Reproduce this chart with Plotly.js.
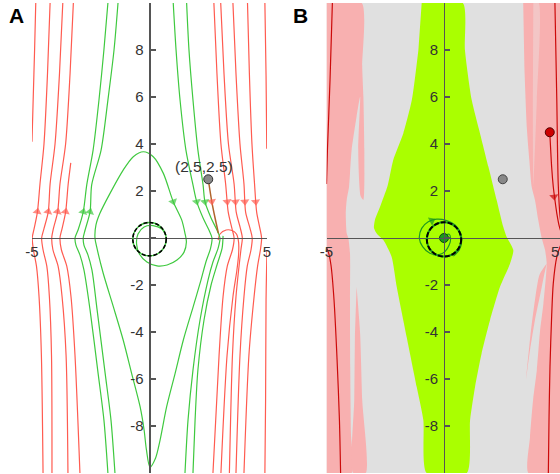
<!DOCTYPE html>
<html><head><meta charset="utf-8">
<script src="https://cdn.plot.ly/plotly-3.0.1.min.js"></script>
<style>html,body{margin:0;padding:0;background:#fff;overflow:hidden}#chart{width:560px;height:474px}</style>
</head><body><div id="chart"></div>
<script>
// ================= DATA (data units) =================
// Panel A : red trajectories (left flow up, right flow down), sampled on common y levels
const redLevelsY  = [10, 7, 4, 2.3, 1.1, 0.4, 0, -0.5, -1.2, -2.5, -5, -10];
const redLeft1X   = [-4.23, -4.34, -4.49, -4.66, -4.77, -4.91, -4.99, -4.94, -4.81, -4.70, -4.60, -4.53];
const redLeft2X   = [-3.69, -3.83, -4.02, -4.23, -4.31, -4.49, -4.59, -4.53, -4.37, -4.26, -4.17, -4.15];
const redLeft3X   = [-3.24, -3.38, -3.57, -3.81, -3.91, -4.09, -4.16, -4.11, -3.89, -3.72, -3.55, -3.47];
const redLeft4X   = [-3.35, -3.46, -3.57, -3.72, -3.81, -3.75, -3.52, -3.34, -3.17, -2.96];
const redLeft4Y   = [3.2, 2.3, 1.1, 0.4, 0, -0.5, -1.2, -2.5, -5, -10];
const redRight1X  = [2.74, 2.87, 3.04, 3.24, 3.35, 3.51, 3.60, 3.53, 3.31, 3.13, 2.96, 2.70];
const redRight2X  = [3.03, 3.17, 3.36, 3.60, 3.69, 3.87, 3.95, 3.89, 3.81, 3.68, 3.53, 3.40];
const redRight3X  = [3.55, 3.68, 3.85, 4.02, 4.09, 4.28, 4.37, 4.32, 4.16, 4.02, 3.85, 3.68];
const redRight4X  = [4.17, 4.25, 4.36, 4.47, 4.56, 4.70, 4.77, 4.72, 4.60, 4.45, 4.23, 4.02];
const redEdgeLeftX  = [-4.84, -4.89, -4.95, -5.0];
const redEdgeLeftY  = [10, 8, 5.9, 4.1];
const redEdgeRightX = [4.91, 4.96, 4.99];
const redEdgeRightY = [10, 6.9, 3.8];
const redEdgeRight2X = [5.0, 4.96, 4.94, 4.91];
const redEdgeRight2Y = [-0.51, -2.64, -6.89, -10];
const redArcX = [2.92, 3.0, 3.26, 3.51, 3.70, 3.79, 3.79, 3.72, 3.55, 3.30, 3.04];
const redArcY = [-0.09, 0.17, 0.34, 0.32, 0.17, -0.17, -0.72, -1.36, -2.5, -5, -10];
const brownX = [2.5, 2.65, 2.79, 2.93];
const brownY = [2.5, 1.55, 0.85, 0.21];

// Panel A : green trajectories
const greenLevelsY = [10, 8, 5.87, 3.74, 2.26, 1.11, 0.34, 0, -0.3, -0.72, -1.36, -3.06, -5.74, -7.74, -10];
const greenLeft1X  = [-1.77, -1.94, -2.15, -2.40, -2.67, -2.82, -3.04, -3.17, -3.13, -2.96, -2.79, -2.53, -2.19, -1.94, -1.77];
const greenLeft2X  = [-1.34, -1.51, -1.77, -2.06, -2.46, -2.53, -2.74, -2.82, -2.79, -2.62, -2.45, -2.23, -1.89, -1.64, -1.47];
const greenRight2X = [1.58, 1.68, 1.85, 2.06, 2.28, 2.36, 2.62, 2.87, 3.0, 2.92, 2.70, 2.49, 2.15, 1.85, 1.64, 1.51];
const greenRight2Y = [10, 8, 5.87, 3.74, 2.26, 1.545, 0.85, 0.34, 0, -0.43, -1.02, -1.79, -3.49, -5.62, -7.74, -10];
const greenRight3X = [3.13, 3.09, 2.87, 2.62, 2.32, 2.06, 1.94, 1.85];
const greenRight3Y = [0.09, -0.43, -1.15, -2.0, -3.49, -5.62, -7.74, -10];
const greenSpiralX = [1.01, 1.13, 1.30, 1.55, 1.85, 2.01, 2.28, 2.53, 2.66, 2.60, 2.40, 2.19, 1.86, 1.44, 1.09, 0.73, 0.45, 0.26, 0.02,
  -0.13, -0.23, -0.40, -0.76, -1.12, -1.54, -1.97, -2.25, -2.32, -2.28, -2.11, -1.68, -1.12, -0.69, -0.26, 0.16, 0.59, 1.01,
  1.37, 1.51, 1.57, 1.47, 1.17, 0.75, 0.32, -0.11, -0.43, -0.55, -0.49, -0.23, 0.15, 0.53, 0.70];
const greenSpiralY = [10, 8, 5.87, 3.74, 2.26, 1.545, 0.85, 0.34, 0, -0.43, -1.02, -1.79, -2.92, -4.34, -5.76, -7.18, -8.60, -9.36, -9.75,
  -9.02, -8.17, -7.18, -5.76, -4.34, -2.92, -1.50, -0.37, 0, 0.55, 1.05, 1.90, 2.89, 3.46, 3.67, 3.46, 2.75, 1.545,
  0.77, 0.20, -0.17, -0.60, -0.94, -1.15, -1.19, -1.02, -0.68, -0.26, 0.17, 0.47, 0.53, 0.38, 0.09];

// arrows: pairs [previous point, tip]
const redArrowX   = [-4.84, -4.77, -4.40, -4.31, -4.00, -3.91, -3.65, -3.57, 2.56, 2.65, 3.22, 3.31, 3.58, 3.66, 4.01, 4.06, 4.44, 4.52];
const redArrowY   = [0.75, 1.12, 0.75, 1.12, 0.75, 1.12, 0.75, 1.12, 2.1, 1.55, 2.2, 1.545, 2.2, 1.545, 2.2, 1.545, 2.2, 1.545];
const greenArrowX = [-2.93, -2.82, -2.64, -2.53, 0.80, 1.01, 1.88, 2.01, 2.25, 2.36];
const greenArrowY = [0.72, 1.11, 0.72, 1.11, 2.15, 1.545, 2.15, 1.545, 2.15, 1.545];

// limit cycle (centre, radius)
const cycleCenter = [0, -0.05];
const cycleRadius = 0.71;
const startPoint = [2.5, 2.5];
const startLabel = '(2.5,2.5)';
const startLabelPos = [2.32, 3.06];

// Panel B : basin regions (polygons)
const pinkLeftX  = [-5.0, -3.50, -3.48, -3.43, -3.39, -3.43, -3.55, -3.65, -3.57, -3.72, -3.93, -4.0, -4.04, -4.14, -4.18, -4.14, -4.07, -4.0, -4.0, -3.99, -3.96, -3.93, -5.0];
const pinkLeftY  = [10, 10, 7.29, 6.01, 3.75, 1.62, 1.79, 3.75, 6.01, 5.16, 3.75, 2.75, 2.18, 1.62, 1.05, 0.2, -0.01, -0.65, -2.64, -5.48, -8.31, -10, -10];
const pinkLeft2X = [-3.72, -3.57, -3.48, -3.33, -3.86, -3.82, -3.79];
const pinkLeft2Y = [-2.07, -4.06, -6.89, -10, -10, -6.89, -4.06];
const pinkRightX = [3.37, 5.0, 5.0, 3.59, 3.66, 3.79, 3.95, 4.09, 4.23, 4.37, 4.30, 4.16, 4.01, 3.87, 3.73, 3.63, 3.52, 3.42];
const pinkRightY = [10, 10, -10, -10, -8.47, -6.89, -5.62, -3.92, -2.80, -1.09, -0.51, -0.01, 0.77, 1.62, 2.18, 3.32, 4.74, 7.29];
const pinkRight2X = [4.37, 4.06, 3.87, 3.68, 3.49, 3.66, 3.87, 4.09, 4.26];
const pinkRight2Y = [-1.09, -1.57, -2.64, -4.13, -6.04, -4.77, -3.49, -2.43, -1.57];
const paleRightX = [3.80, 4.03, 3.95, 3.80, 3.78];
const paleRightY = [10, 10, 5.87, 2.18, 5.87];
const limeX = [-0.95, 0.80, 0.89, 1.18, 1.53, 1.89, 2.24, 2.52, 2.67, 2.95, 2.81, 2.38, 1.96, 1.60, 1.32, 1.11, 0.97,
  -0.74, -0.88, -1.16, -1.59, -2.01, -2.23, -2.58, -2.85, -2.98, -2.94, -2.72, -2.40, -2.16, -1.73, -1.37, -1.09];
const limeY = [10, 10, 8, 5.87, 4.46, 3.03, 1.62, 0.48, 0.04, -0.52, -1.09, -2.09, -3.49, -4.92, -6.34, -7.75, -10,
  -10, -7.75, -6.34, -4.21, -2.09, -0.80, -0.09, 0.17, 0.43, 0.77, 1.33, 2.22, 3.32, 4.46, 5.87, 8];

// Panel B : trajectories
const bLeftTopX = [-4.75, -4.85, -4.96, -5.0];
const bLeftTopY = [10, 6.72, 3.75, 2.3];
const bLeftBotX = [-5.0, -4.92, -4.81, -4.68, -4.55, -4.45, -4.40];
const bLeftBotY = [-0.43, -0.60, -1.15, -2.64, -5.19, -7.75, -10];
const bRightTopX = [4.72, 4.80, 4.86, 4.94, 5.0];
const bRightTopY = [10, 5.87, 2.33, 0.91, 0.5];
const bRightDotX = [4.5, 4.54, 4.58, 4.65, 4.72, 4.80, 4.91, 5.0];
const bRightDotY = [4.5, 3.75, 3.03, 2.18, 1.62, 1.05, 0.48, 0.2];
const bRightBotX = [5.0, 4.94, 4.80, 4.65, 4.58, 4.51, 4.47, 4.44];
const bRightBotY = [-0.25, -0.37, -0.80, -1.93, -3.35, -5.48, -7.60, -10];
const bSpiralX = [0.01, 0.11, 0.22, 0.28, 0.22, 0.04, -0.24, -0.60, -0.91, -1.05, -0.95, -0.67, -0.31, 0.11, 0.47, 0.71, 0.75, 0.65, 0.40];
const bSpiralY = [-0.06, 0.13, 0.16, -0.01, -0.30, -0.58, -0.72, -0.65, -0.37, -0.01, 0.41, 0.69, 0.80, 0.74, 0.55, 0.20, -0.16, -0.51, -0.77];
const bRedDot = [4.5, 4.5];
const bGreenDot = [0, 0];
const bCycleCenter = [0, -0.06];
const bCycleRadius = 0.73;
const bGreenArrowX = [-0.75, -0.52];
const bGreenArrowY = [0.62, 0.74];
const bRedArrowX = [4.62, 4.68];
const bRedArrowY = [2.3, 1.76];

// tick labels
const yTickVals = [-10, -8, -6, -4, -2, 0, 2, 4, 6, 8, 10];
const yTickText = ['', '-8', '-6', '-4', '-2', '', '2', '4', '6', '8', ''];
const xTickVals = [-5, 5];
const xTickText = ['-5', '5'];

// ================= STYLE =================
const RED = '#FF5B50', GREEN = '#3FC93F', BROWN = '#B0642C', DRED = '#CC0A0A';
const PINK = '#F8B0B0', LIME = '#AAFF00', GREY = '#E0E0E0', BGREEN = '#1E9A1E';
const FONT = 'Liberation Sans, Arial, Helvetica, sans-serif';

function ln(x, y, color, p, w) {
  return {type: 'scatter', mode: 'lines', x: x, y: y, xaxis: p === 1 ? 'x' : 'x2', yaxis: p === 1 ? 'y' : 'y2',
    line: {color: color, width: w || 1.2, shape: 'spline', smoothing: 0.8}, hoverinfo: 'skip', showlegend: false};
}
function poly(x, y, color, p) {
  return {type: 'scatter', mode: 'lines', x: x, y: y, xaxis: p === 1 ? 'x' : 'x2', yaxis: p === 1 ? 'y' : 'y2',
    fill: 'toself', fillcolor: color, line: {width: 0, color: color, shape: 'spline', smoothing: 0.6}, hoverinfo: 'skip', showlegend: false};
}
function arrows(x, y, color, p) {
  const sizes = x.map((v, i) => i % 2 ? 8 : 0);
  return {type: 'scatter', mode: 'markers', x: x, y: y, xaxis: p === 1 ? 'x' : 'x2', yaxis: p === 1 ? 'y' : 'y2',
    marker: {symbol: 'triangle-up', size: sizes, color: color, angleref: 'previous', line: {width: 0}},
    hoverinfo: 'skip', showlegend: false};
}
function dot(pt, fill, edge, p) {
  return {type: 'scatter', mode: 'markers', x: [pt[0]], y: [pt[1]], xaxis: p === 1 ? 'x' : 'x2', yaxis: p === 1 ? 'y' : 'y2',
    marker: {size: 9, color: fill, line: {color: edge, width: 1}}, hoverinfo: 'skip', showlegend: false, cliponaxis: false};
}

const traces = [];
// Panel A
[redLeft1X, redLeft2X, redLeft3X, redRight1X, redRight2X, redRight3X, redRight4X]
  .forEach(xs => traces.push(ln(xs, redLevelsY, RED, 1)));
traces.push(ln(redLeft4X, redLeft4Y, RED, 1));
traces.push(ln(redEdgeLeftX, redEdgeLeftY, RED, 1));
traces.push(ln(redEdgeRightX, redEdgeRightY, RED, 1));
traces.push(ln(redEdgeRight2X, redEdgeRight2Y, RED, 1));
traces.push(ln(redArcX, redArcY, RED, 1));
traces.push(ln(greenLeft1X, greenLevelsY, GREEN, 1));
traces.push(ln(greenLeft2X, greenLevelsY, GREEN, 1));
traces.push(ln(greenRight2X, greenRight2Y, GREEN, 1));
traces.push(ln(greenRight3X, greenRight3Y, GREEN, 1));
traces.push(ln(greenSpiralX, greenSpiralY, GREEN, 1));
traces.push(ln(brownX, brownY, BROWN, 1, 1.5));
traces.push(arrows(redArrowX, redArrowY, RED, 1));
traces.push(arrows(greenArrowX, greenArrowY, GREEN, 1));
traces.push(dot(startPoint, '#888888', '#333333', 1));
// Panel B
traces.push(poly(pinkLeftX, pinkLeftY, PINK, 2));
traces.push(poly(pinkLeft2X, pinkLeft2Y, PINK, 2));
traces.push(poly(pinkRightX, pinkRightY, PINK, 2));
traces.push(poly(pinkRight2X, pinkRight2Y, PINK, 2));
traces.push(poly(paleRightX, paleRightY, '#F3C6C6', 2));
traces.push(poly(limeX, limeY, LIME, 2));
traces.push(ln(bLeftTopX, bLeftTopY, DRED, 2));
traces.push(ln(bLeftBotX, bLeftBotY, DRED, 2));
traces.push(ln(bRightTopX, bRightTopY, DRED, 2));
traces.push(ln(bRightDotX, bRightDotY, DRED, 2));
traces.push(ln(bRightBotX, bRightBotY, DRED, 2));
traces.push(ln(bSpiralX, bSpiralY, BGREEN, 2, 1.2));
traces.push(arrows(bGreenArrowX, bGreenArrowY, BGREEN, 2));
traces.push(arrows(bRedArrowX, bRedArrowY, DRED, 2));
traces.push(dot(startPoint, '#888888', '#444444', 2));
traces.push(dot(bRedDot, '#CC0000', '#550000', 2));
traces.push(dot(bGreenDot, '#1A9A1A', '#0A4A0A', 2));

function circ(c, r, p, color, w, dash) {
  return {type: 'circle', xref: p === 1 ? 'x' : 'x2', yref: p === 1 ? 'y' : 'y2',
    x0: c[0] - r, x1: c[0] + r, y0: c[1] - r, y1: c[1] + r, line: {color: color, width: w, dash: dash || 'solid'}};
}

const tickFont = {family: FONT, size: 15, color: '#333'};
const xBase = {range: [-5, 5], anchor: 'free', position: 0.4979, showline: true, linecolor: '#555', linewidth: 1.3,
  ticks: 'inside', ticklen: 5, tickcolor: '#555', tickwidth: 1.3, tickvals: xTickVals, ticktext: xTickText,
  showgrid: false, zeroline: false, tickfont: tickFont, fixedrange: true};
const yBase = {range: [-10, 10], domain: [0.00211, 0.99367], anchor: 'free', showline: true, linecolor: '#555', linewidth: 1.3,
  ticks: 'inside', ticklen: 5, tickcolor: '#555', tickwidth: 1.3, tickvals: yTickVals, ticktext: yTickText,
  showgrid: false, zeroline: false, tickfont: tickFont, fixedrange: true, ticklabelstandoff: 3};

const layout = {
  width: 560, height: 474, margin: {l: 0, r: 0, t: 0, b: 0},
  paper_bgcolor: '#fff', plot_bgcolor: 'rgba(0,0,0,0)', showlegend: false,
  xaxis: Object.assign({}, xBase, {domain: [0.05714, 0.47679]}),
  yaxis: Object.assign({}, yBase, {position: 0.26696}),
  xaxis2: Object.assign({}, xBase, {domain: [0.58304, 1], range: [-5, 4.936]}),
  yaxis2: Object.assign({}, yBase, {position: 0.79286}),
  shapes: [
    {type: 'rect', xref: 'x2', yref: 'y2', x0: -5, x1: 5, y0: -10, y1: 10, fillcolor: GREY, line: {width: 0}, layer: 'below'},
    circ(cycleCenter, cycleRadius, 1, GREEN, 1.4),
    circ(cycleCenter, cycleRadius, 1, '#000', 1.6, '4px,2px'),
    circ(bCycleCenter, bCycleRadius, 2, BGREEN, 2),
    circ(bCycleCenter, bCycleRadius, 2, '#000', 2, '5px,2px')
  ],
  annotations: [
    {xref: 'paper', yref: 'paper', x: 0.0295, y: 0.967, xanchor: 'center', yanchor: 'middle', text: '<b>A</b>', showarrow: false, font: {family: FONT, size: 21, color: '#000'}},
    {xref: 'paper', yref: 'paper', x: 0.5366, y: 0.967, xanchor: 'center', yanchor: 'middle', text: '<b>B</b>', showarrow: false, font: {family: FONT, size: 21, color: '#000'}},
    {xref: 'x', yref: 'y', x: startLabelPos[0], y: startLabelPos[1], xanchor: 'center', yanchor: 'middle', text: startLabel, showarrow: false, font: {family: FONT, size: 15.5, color: '#333'}},
    {xref: 'paper', yref: 'paper', x: 1.0, y: 0.4979, xanchor: 'right', yanchor: 'top', xshift: 1, yshift: -3, text: '5', showarrow: false, font: tickFont}
  ]
};

Plotly.newPlot('chart', traces, layout, {staticPlot: true, displayModeBar: false});
</script></body></html>
